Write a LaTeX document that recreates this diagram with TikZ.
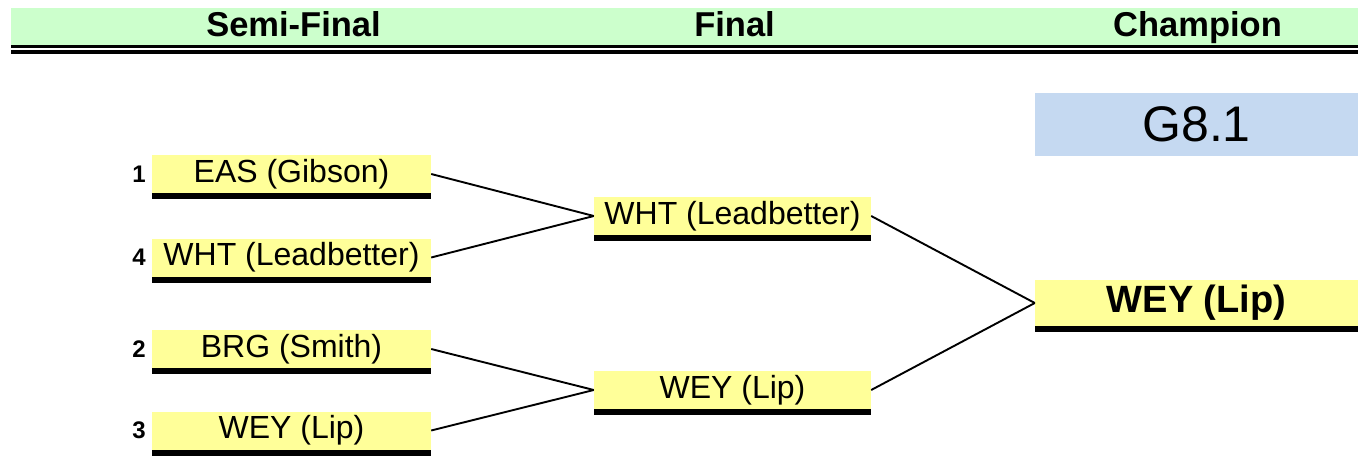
\documentclass[tikz,border=0pt]{standalone}
\usepackage{fontspec}
\setmainfont{Liberation Sans}
\usepackage{tikz}
\usetikzlibrary{positioning}
\definecolor{headgreen}{HTML}{CCFFCC}
\definecolor{teamyellow}{HTML}{FFFF99}
\definecolor{gameblue}{HTML}{C5D9F1}
\tikzset{
  team/.style={fill=teamyellow,inner sep=0pt,minimum width=279pt,minimum height=38pt,font=\fontsize{32}{36}\selectfont},
  seed/.style={inner sep=0pt,font=\fontsize{24}{28}\selectfont\bfseries},
  roundhead/.style={anchor=base,inner sep=0pt,font=\fontsize{34.5}{40}\selectfont\bfseries},
  link/.style={line width=1.9pt}
}

\begin{document}
\begin{tikzpicture}[x=1pt,y=1pt]
\useasboundingbox (0,0) rectangle (1360,456);
% header
\fill[headgreen] (11,448) rectangle (1358,411);
\fill (11,411) rectangle (1358,407.5);
\fill (11,405.5) rectangle (1358,402);
\node[roundhead] (hsemi) at (293.5,419) {Semi-Final};
\node[roundhead] (hfinal) at (734.5,419) {Final};
\node[roundhead] (hchamp) at (1197.5,419) {Champion};
% semi-finals
\node[team] (s1) at (291.5,282) {EAS (Gibson)};
\node[team] (s4) at (291.5,198.5) {WHT (Leadbetter)};
\node[team] (s2) at (291.5,107) {BRG (Smith)};
\node[team] (s3) at (291.5,25.5) {WEY (Lip)};
\node[seed,left=6pt of s1] (n1) {1};
\node[seed,left=6pt of s4] (n4) {4};
\node[seed,left=6pt of s2] (n2) {2};
\node[seed,left=6pt of s3] (n3) {3};
% final
\node[team,minimum width=277pt] (f1) at (732.5,240) {WHT (Leadbetter)};
\node[team,minimum width=277pt] (f2) at (732.5,66) {WEY (Lip)};
% champion
\node[fill=gameblue,inner sep=0pt,minimum width=323pt,minimum height=63pt,font=\fontsize{50}{56}\selectfont] (game) at (1196.5,331.5) {G8.1};
\node[team,minimum width=323pt,minimum height=46pt,font=\fontsize{38}{42}\selectfont\bfseries] (champ) at (1196.5,153) {WEY (Lip)};
\foreach \n in {s1,s4,s2,s3,f1,f2,champ}
  \fill (\n.south west) rectangle ([yshift=-6pt]\n.south east);
% connectors
\draw[link] (s1.east) -- (f1.west);
\draw[link] (s4.east) -- (f1.west);
\draw[link] (s2.east) -- (f2.west);
\draw[link] (s3.east) -- (f2.west);
\draw[link] (f1.east) -- (champ.west);
\draw[link] (f2.east) -- (champ.west);
\end{tikzpicture}
\end{document}
